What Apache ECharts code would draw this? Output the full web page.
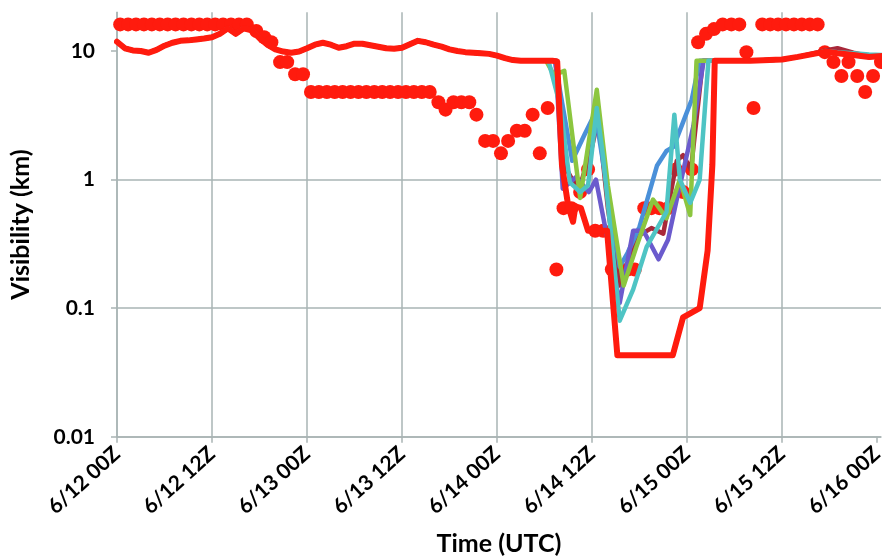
<!DOCTYPE html>
<html>
<head>
<meta charset="utf-8">
<script src="https://cdn.jsdelivr.net/npm/echarts@6/dist/echarts.min.js"></script>
<style>
html,body{margin:0;padding:0;background:#fff;}
#chart{width:882px;height:558px;}
</style>
</head>
<body>
<div id="chart"></div>
<script>
// ---- Data ----
const xTickHours = [0, 12, 24, 36, 48, 60, 72, 84, 96];
const xTickLabels = ['6/12 00Z', '6/12 12Z', '6/13 00Z', '6/13 12Z', '6/14 00Z', '6/14 12Z', '6/15 00Z', '6/15 12Z', '6/16 00Z'];
const yTickValues = [0.01, 0.1, 1, 10];
const yTickLabels = ['0.01', '0.1', '1', '10'];

// common model forecast, hours 0..52
const baseHours = [0,1,2,3,4,5,6,7,8,9,10,11,12,13,14,15,16,17,18,19,20,21,22,23,24,25,26,27,28,29,30,31,32,33,34,35,36,37,38,39,40,41,42,43,44,45,46,47,48,49,50,51,52];
const baseVis = [11.8,10.5,10.1,10.0,9.7,10.2,11.0,11.6,12.0,12.1,12.3,12.5,12.8,13.6,15.0,13.6,15.0,14.5,12.6,11.2,10.3,9.9,9.7,9.9,10.5,11.2,11.6,11.2,10.6,10.9,11.4,11.4,11.1,10.8,10.5,10.4,10.6,11.3,12.0,11.7,11.2,10.8,10.3,10.0,9.8,9.7,9.6,9.5,9.2,8.8,8.5,8.4,8.4];

// common tail, hours 76..97
const tailHours = [76, 80, 84, 86, 88, 89.5, 91, 93, 95, 97];
const tailVis = [8.4, 8.4, 8.6, 9.0, 9.5, 9.9, 9.6, 9.3, 9.0, 9.2];
const tailVisDarkRed = [8.4, 8.4, 8.6, 9.0, 9.6, 10.1, 10.5, 9.7, 9.1, 9.2];
const tailVisTeal = [8.4, 8.4, 8.6, 9.0, 9.5, 10.0, 9.8, 9.6, 9.4, 9.3];

// fog period, per member
const redHours = [53,54,55,55.6,56.2,57.0,57.6,57.9,58.6,59.5,61.9,63.2,70.2,71.5,73.6,74.6,75.2,75.5];
const redVis = [8.4,8.4,8.4,8.3,1.3,0.62,0.47,0.62,0.6,0.40,0.40,0.043,0.043,0.085,0.1,0.28,1.3,8.4];

const blueHours = [53,54,55.3,57.5,59.0,60.4,63.5,64.5,66.0,68.2,69.4,70.3,71.5,72.6,73.6,75];
const blueVis = [8.4,8.4,8.4,1.4,2.2,3.3,0.21,0.27,0.43,1.28,1.67,1.8,2.8,4.2,8.4,8.4];

const purpleHours = [53,54,55.4,56.3,58.0,59.6,60.5,63.5,65.2,66.5,68.4,69.6,70.7,72.8,74.1,75];
const purpleVis = [8.4,8.4,8.4,0.85,1.05,0.8,1.0,0.11,0.4,0.4,0.24,0.34,0.7,2.6,8.4,8.4];

const greenHours = [53,54.2,55.2,56.5,58.5,60.6,62.0,64.0,65.6,67.7,68.5,69.4,71.1,72.4,73.2,75];
const greenVis = [8.4,8.4,6.5,7.0,0.72,5.0,0.9,0.15,0.3,0.7,0.6,0.5,1.0,0.53,8.4,8.4];

const tealHours = [53,54.5,56.0,57.2,58.5,59.5,60.6,61.4,62.3,63.5,65.2,66.9,69.4,70.4,71.1,72.4,73.6,74.7,75];
const tealVis = [8.4,8.4,3.7,0.95,0.8,0.9,3.6,1.5,0.43,0.08,0.14,0.3,0.56,3.2,1.0,0.66,1.0,8.4,8.4];

const darkRedHours = [53,55.5,56.5,57.5,58.5,60.0,60.8,62.0,63.5,65.7,67.5,69.0,70.7,71.5,72.5,74.0,75];
const darkRedVis = [8.4,8.4,1.3,1.0,0.9,1.8,3.0,0.6,0.15,0.36,0.42,0.38,1.4,1.55,1.2,8.4,8.4];

// observations
const obsHours = [0.4,1.4,2.4,3.4,4.4,5.4,6.4,7.4,8.4,9.4,10.4,11.4,12.4,13.4,14.4,15.4,16.4,
  17.6,18.6,19.5,20.6,21.5,22.5,23.5,
  24.5,25.5,26.5,27.5,28.5,29.5,30.5,31.5,32.5,33.5,34.5,35.5,36.5,37.5,38.5,39.5,
  40.6,41.5,42.5,43.5,44.5,45.4,46.5,47.5,48.5,49.4,50.5,51.5,52.5,53.4,54.4,55.5,
  56.4,57.4,58.5,59.5,60.4,61.4,62.5,63.5,64.5,65.4,66.6,67.5,68.5,69.6,70.6,71.5,72.6,
  73.4,74.4,75.4,76.5,77.6,78.6,79.5,80.4,
  81.5,82.5,83.5,84.5,85.5,86.5,87.5,88.5,
  89.4,90.5,91.5,92.4,93.5,94.5,95.5,96.5];
const obsVis = [16.1,16.1,16.1,16.1,16.1,16.1,16.1,16.1,16.1,16.1,16.1,16.1,16.1,16.1,16.1,16.1,16.1,
  14.3,12.8,11.7,8.2,8.2,6.6,6.6,
  4.8,4.8,4.8,4.8,4.8,4.8,4.8,4.8,4.8,4.8,4.8,4.8,4.8,4.8,4.8,4.8,
  4.0,3.5,4.0,4.0,4.0,3.2,2.0,2.0,1.6,2.0,2.4,2.4,3.2,1.6,3.6,0.2,
  0.6,0.6,0.8,1.2,0.4,0.4,0.2,0.2,0.2,0.2,0.6,0.6,0.6,0.6,1.2,0.8,1.2,
  11.7,13.6,14.8,16.1,16.1,16.1,9.8,3.6,
  16.1,16.1,16.1,16.1,16.1,16.1,16.1,16.1,
  9.8,8.2,6.4,8.2,6.4,4.8,6.4,8.2];

// ---- Build ----
function pairs(hours, vals) { return hours.map((h, i) => [h, vals[i]]); }
function member(divH, divV, tailV) {
  return pairs(baseHours.concat(divH, tailHours), baseVis.concat(divV, tailV));
}

const FONT = 'Lato, "Open Sans", sans-serif';
const GRID = '#A9B4B4';
const RED = '#FF1B0E';

function lineSeries(name, data, color, width) {
  return {
    name, type: 'line', data, showSymbol: false, symbol: 'none',
    lineStyle: { color, width, cap: 'round', join: 'round' },
    itemStyle: { color }, animation: false
  };
}

const chart = echarts.init(document.getElementById('chart'), null, { renderer: 'canvas' });
chart.setOption({
  backgroundColor: '#ffffff',
  animation: false,
  grid: { left: 117, right: 1, top: 12.3, bottom: 121.2, containLabel: false, outerBoundsMode: 'none' },
  xAxis: {
    type: 'value', min: 0, max: 96.5, interval: 12,
    name: 'Time (UTC)', nameLocation: 'middle', nameGap: 95,
    nameTextStyle: { fontFamily: FONT, fontWeight: 'bold', fontSize: 25, color: '#000' },
    axisLine: { show: true, lineStyle: { color: GRID, width: 1.5 } },
    axisTick: { show: true, length: 6, lineStyle: { color: GRID, width: 1.5 }, customValues: xTickHours },
    axisLabel: {
      customValues: xTickHours,
      formatter: v => xTickLabels[xTickHours.indexOf(Math.round(v))] || '',
      rotate: 42, margin: 14, hideOverlap: false,
      fontFamily: FONT, fontWeight: 'bold', fontSize: 21, color: '#000'
    },
    splitLine: { show: true, showMaxLine: false, lineStyle: { color: GRID, width: 1.5 } }
  },
  yAxis: {
    type: 'log', logBase: 10, min: 0.01, max: 20,
    name: 'Visibility (km)', nameLocation: 'middle', nameGap: 84, nameRotate: 90,
    nameTextStyle: { fontFamily: FONT, fontWeight: 'bold', fontSize: 25, color: '#000' },
    axisLine: { show: true, lineStyle: { color: GRID, width: 1.5 } },
    axisTick: { show: true, length: 6, lineStyle: { color: GRID, width: 1.5 }, customValues: yTickValues },
    axisLabel: {
      customValues: yTickValues,
      formatter: v => {
        let best = 0;
        yTickValues.forEach((t, i) => { if (Math.abs(Math.log10(t) - Math.log10(v)) < Math.abs(Math.log10(yTickValues[best]) - Math.log10(v))) best = i; });
        return yTickLabels[best];
      },
      margin: 22, fontFamily: FONT, fontWeight: 'bold', fontSize: 21, color: '#000'
    },
    splitLine: { show: true, showMaxLine: false, lineStyle: { color: GRID, width: 1.5 } }
  },
  series: [
    lineSeries('m5', member(darkRedHours, darkRedVis, tailVisDarkRed), '#A8283A', 4.5),
    lineSeries('m1', member(blueHours, blueVis, tailVis), '#4A90D9', 4.5),
    lineSeries('m2', member(purpleHours, purpleVis, tailVis), '#6B5BCD', 4.5),
    lineSeries('m3', member(greenHours, greenVis, tailVis), '#8CC63F', 4.5),
    lineSeries('m4', member(tealHours, tealVis, tailVisTeal), '#4EC4C4', 4.5),
    lineSeries('ctl', member(redHours, redVis, tailVis), RED, 6),
    {
      name: 'obs', type: 'scatter', data: pairs(obsHours, obsVis),
      symbol: 'circle', symbolSize: 14,
      itemStyle: { color: RED, opacity: 1 }, animation: false
    }
  ]
});
</script>
</body>
</html>
